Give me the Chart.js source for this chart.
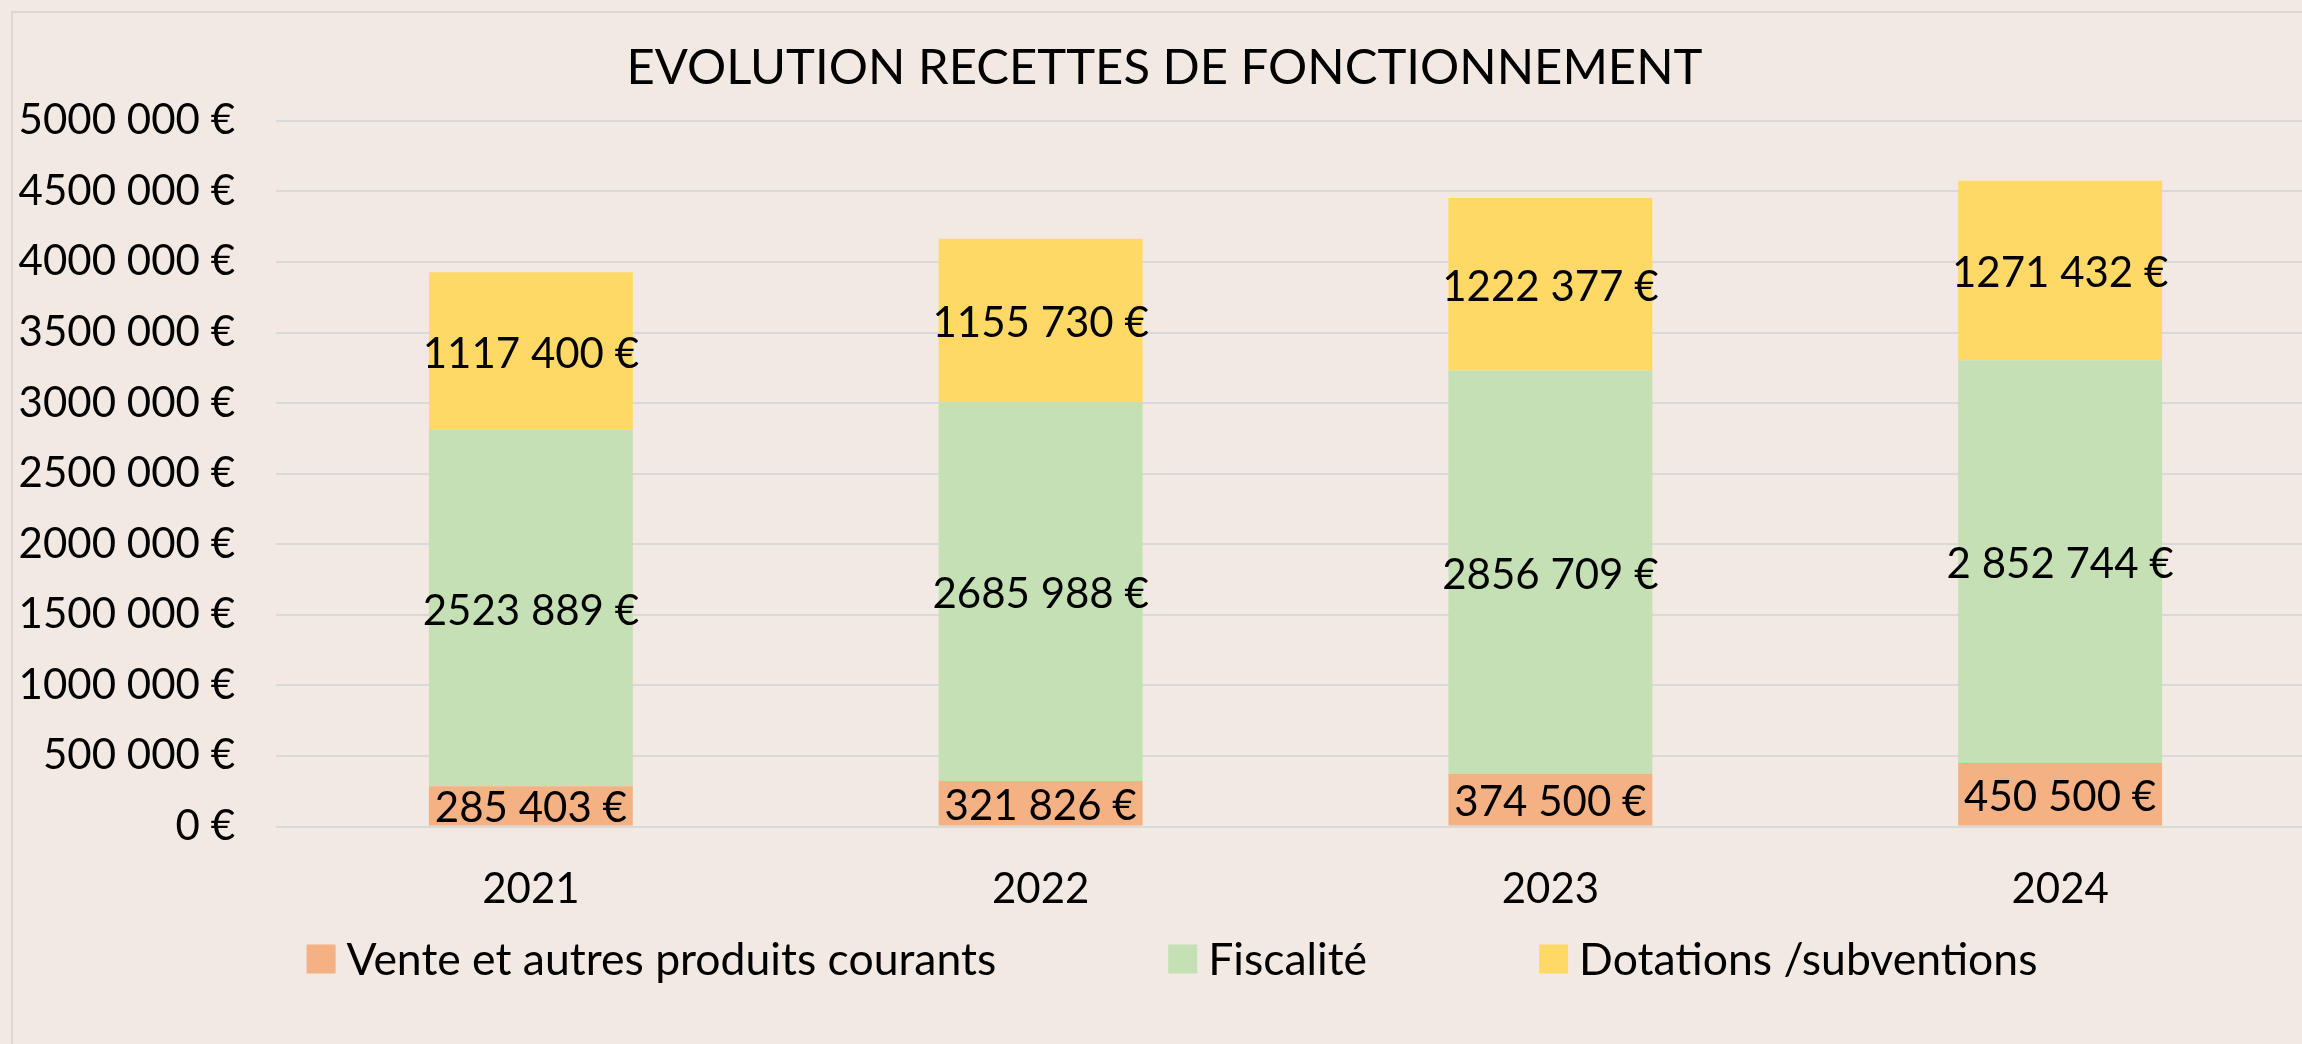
<!DOCTYPE html>
<html><head><meta charset="utf-8">
<script src="https://cdn.jsdelivr.net/npm/chart.js@4.4.0/dist/chart.umd.min.js"></script>
<style>
html,body{margin:0;padding:0;background:#F2E9E3;width:2302px;height:1044px;overflow:hidden;}
#frame{position:absolute;left:11px;top:11px;width:2400px;height:1100px;border:2px solid #DCD7D3;box-sizing:border-box;}
#c{position:absolute;left:0;top:0;}
</style></head><body>
<div id="frame"></div>
<canvas id="c" width="2344" height="1044"></canvas>
<script>
const categories = ['2021', '2022', '2023', '2024'];
const seriesNames = ['Vente et autres produits courants', 'Fiscalité', 'Dotations /subventions'];
const vente = [285403, 321826, 374500, 450500];
const fiscalite = [2523889, 2685988, 2856709, 2852744];
const dotations = [1117400, 1155730, 1222377, 1271432];
const venteLabels = ['285 403 €', '321 826 €', '374 500 €', '450 500 €'];
const fiscaliteLabels = ['2523 889 €', '2685 988 €', '2856 709 €', '2 852 744 €'];
const dotationsLabels = ['1117 400 €', '1155 730 €', '1222 377 €', '1271 432 €'];
const yMin = 0, yMax = 5000000, yStep = 500000;
const titleText = 'EVOLUTION RECETTES DE FONCTIONNEMENT';

function euro(v) {
  if (v === 0) return '0 €';
  const th = Math.floor(v / 1000), rest = v % 1000;
  return th + ' ' + String(rest).padStart(3, '0') + ' €';
}

const FONT = 'Lato';

const barLabels = {
  id: 'barLabels',
  afterDatasetsDraw(chart) {
    const ctx = chart.ctx;
    ctx.save();
    ctx.font = '42px ' + FONT;
    ctx.fillStyle = '#000';
    ctx.textAlign = 'center';
    ctx.textBaseline = 'middle';
    chart.data.datasets.forEach((ds, i) => {
      const meta = chart.getDatasetMeta(i);
      meta.data.forEach((el, j) => {
        ctx.fillText(ds.valueLabels[j], el.x, (el.y + el.base) / 2 + 3);
      });
    });
    ctx.restore();
  }
};

const customLegend = {
  id: 'customLegend',
  afterDraw(chart) {
    const ctx = chart.ctx;
    ctx.save();
    ctx.font = '44.5px ' + FONT;
    ctx.textBaseline = 'middle';
    ctx.textAlign = 'left';
    const box = 29, gapText = 11, gapItem = 172, yc = 959, cx = 1172;
    const items = chart.data.datasets.map(ds => ({ text: ds.label, color: ds.backgroundColor, w: ctx.measureText(ds.label).width }));
    const total = items.reduce((s, it) => s + box + gapText + it.w, 0) + gapItem * (items.length - 1);
    let x = cx - total / 2;
    items.forEach(it => {
      ctx.fillStyle = it.color;
      ctx.fillRect(x, yc - box / 2, box, box);
      ctx.fillStyle = '#000';
      ctx.fillText(it.text, x + box + gapText, yc + 2);
      x += box + gapText + it.w + gapItem;
    });
    ctx.restore();
  }
};

function draw() {
  new Chart(document.getElementById('c'), {
    type: 'bar',
    data: {
      labels: categories,
      datasets: [
        { label: seriesNames[0], data: vente, valueLabels: venteLabels, backgroundColor: '#F4B183' },
        { label: seriesNames[1], data: fiscalite, valueLabels: fiscaliteLabels, backgroundColor: '#C5E0B4' },
        { label: seriesNames[2], data: dotations, valueLabels: dotationsLabels, backgroundColor: '#FFD966' }
      ]
    },
    options: {
      responsive: false,
      animation: false,
      datasets: { bar: { barPercentage: 0.4, categoryPercentage: 1.0, borderWidth: 0 } },
      layout: { padding: { left: 14, right: 29, top: 0, bottom: 127.5 } },
      plugins: {
        legend: { display: false },
        tooltip: { enabled: false },
        title: {
          display: true, text: titleText, color: '#000',
          font: { family: FONT, size: 49, weight: 'normal' },
          padding: { top: 39, bottom: 23 }
        }
      },
      scales: {
        x: {
          stacked: true,
          grid: { display: false, drawTicks: false },
          border: { display: false },
          ticks: { color: '#000', font: { family: FONT, size: 42 }, padding: 38 },
          afterFit(s) { s.height = 90; }
        },
        y: {
          stacked: true, min: yMin, max: yMax,
          grid: { color: '#D9D9D9', lineWidth: 2, drawTicks: false },
          border: { display: false },
          ticks: { stepSize: yStep, color: '#000', font: { family: FONT, size: 42 }, padding: 41, callback: v => euro(v) },
          afterFit(s) { s.width = 262; }
        }
      }
    },
    plugins: [barLabels, customLegend]
  });
}
document.fonts.load('44px ' + FONT).then(draw, draw);
</script>
</body></html>
